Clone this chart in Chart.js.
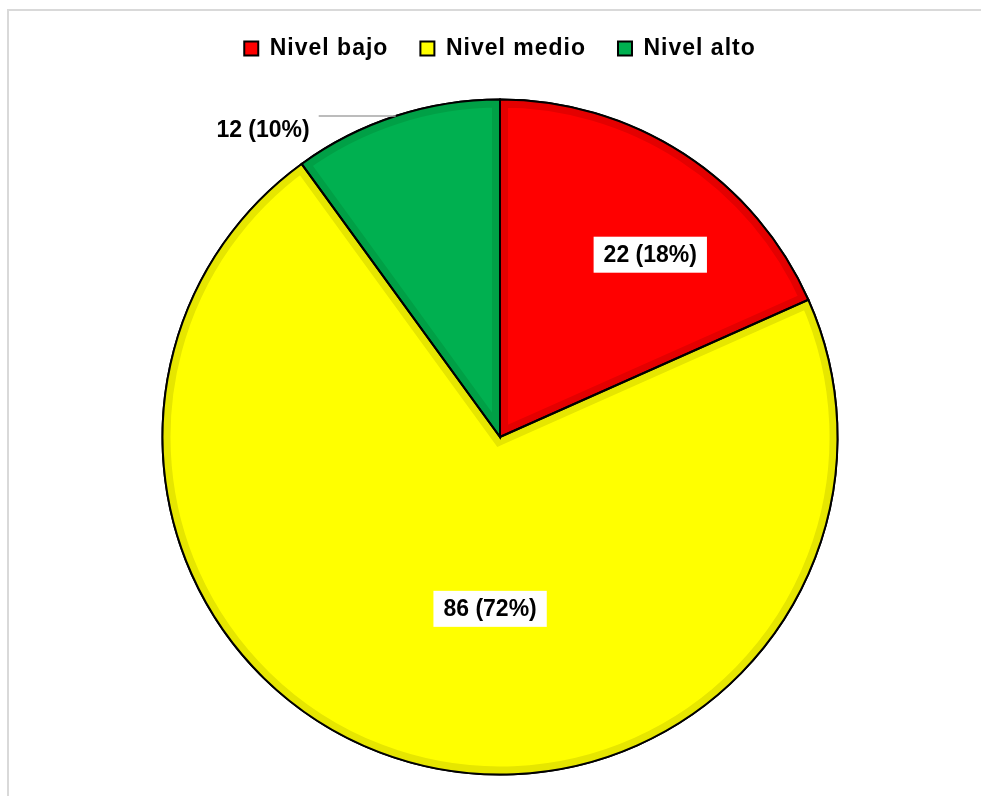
<!DOCTYPE html>
<html>
<head>
<meta charset="utf-8">
<script src="https://cdn.jsdelivr.net/npm/chart.js@4.4.1/dist/chart.umd.min.js"></script>
<style>
  html, body { margin: 0; padding: 0; background: #fff; }
  #wrap { position: relative; width: 981px; height: 796px; }
  #frame { position: absolute; left: 7px; top: 9px; right: 0; bottom: 0;
           border-top: 2px solid #d9d9d9; border-left: 2px solid #d9d9d9; }
  canvas { position: absolute; left: 0; top: 0; }
</style>
</head>
<body>
<div id="wrap"><div id="frame"></div><canvas id="c" width="981" height="796"></canvas></div>
<script>
const categories = ["Nivel bajo", "Nivel medio", "Nivel alto"];
const counts = [22, 86, 12];
const percents = [18, 72, 10];

const fillColors = ["#ff0000", "#ffff00", "#00b050"];
const bevelColors = ["#e40000", "#e6e600", "#00a046"];

// label placement (style only): radial fraction and angle shift in degrees
const labelPlacement = [
  { r: 0.70, da: 6.5, box: true },
  { r: 0.51, da: -11.7, box: true },
  { r: 1.0, da: 0, box: false, leader: 77 }
];

const PLOT_TOP = 98.5;
const PAD_TOP = 5;

const spacingPlugin = {
  id: 'legendSpacing',
  beforeLayout(chart) { chart.ctx.letterSpacing = '1px'; },
  beforeDraw(chart) { chart.ctx.letterSpacing = '1px'; }
};

const spacerPlugin = {
  id: 'spacer',
  beforeInit(chart) {
    const box = {
      position: 'top', weight: 0, fullSize: true, options: {},
      left: 0, top: 0, right: 0, bottom: 0, width: 0, height: 0,
      isHorizontal() { return true; },
      update(maxWidth) {
        const lh = chart.legend ? chart.legend.height : 0;
        this.width = maxWidth;
        this.height = Math.max(0, PLOT_TOP - PAD_TOP - lh);
        return this.height;
      },
      draw() {},
      _layers() { return [{ z: 0, draw() {} }]; }
    };
    Chart.layouts.addBox(chart, box);
  }
};

const bevelPlugin = {
  id: 'bevel',
  afterDatasetDraw(chart) {
    const ctx = chart.ctx;
    const meta = chart.getDatasetMeta(0);
    meta.data.forEach((arc, i) => {
      const p = arc.getProps(['x', 'y', 'startAngle', 'endAngle', 'outerRadius']);
      ctx.save();
      ctx.beginPath();
      ctx.moveTo(p.x, p.y);
      ctx.arc(p.x, p.y, p.outerRadius, p.startAngle, p.endAngle);
      ctx.closePath();
      ctx.clip();
      ctx.lineJoin = 'miter';
      ctx.strokeStyle = bevelColors[i];
      ctx.lineWidth = 16;
      ctx.stroke();
      ctx.restore();
    });
    meta.data.forEach((arc, i) => {
      const p = arc.getProps(['x', 'y', 'startAngle', 'endAngle', 'outerRadius']);
      ctx.save();
      ctx.beginPath();
      ctx.moveTo(p.x, p.y);
      ctx.arc(p.x, p.y, p.outerRadius, p.startAngle, p.endAngle);
      ctx.closePath();
      ctx.lineJoin = 'miter';
      ctx.strokeStyle = '#000';
      ctx.lineWidth = 2;
      ctx.stroke();
      ctx.restore();
    });
  }
};

const labelPlugin = {
  id: 'pieLabels',
  afterDraw(chart) {
    const ctx = chart.ctx;
    const meta = chart.getDatasetMeta(0);
    ctx.save();
    ctx.letterSpacing = '0px';
    ctx.font = 'bold 23px "Liberation Sans", Arial, sans-serif';
    ctx.textBaseline = 'middle';
    meta.data.forEach((arc, i) => {
      const p = arc.getProps(['x', 'y', 'startAngle', 'endAngle', 'outerRadius']);
      const pl = labelPlacement[i];
      const mid = (p.startAngle + p.endAngle) / 2 + pl.da * Math.PI / 180;
      const text = counts[i] + ' (' + percents[i] + '%)';
      const lx = p.x + Math.cos(mid) * p.outerRadius * pl.r;
      const ly = p.y + Math.sin(mid) * p.outerRadius * pl.r;
      if (pl.box) {
        const w = ctx.measureText(text).width;
        ctx.fillStyle = '#fff';
        ctx.fillRect(lx - w / 2 - 10, ly - 18, w + 20, 36);
        ctx.fillStyle = '#000';
        ctx.textAlign = 'center';
        ctx.fillText(text, lx, ly + 1);
      } else {
        const x2 = lx - pl.leader;
        ctx.strokeStyle = '#a6a6a6';
        ctx.lineWidth = 1.5;
        ctx.beginPath();
        ctx.moveTo(lx, ly);
        ctx.lineTo(x2, ly);
        ctx.stroke();
        ctx.fillStyle = '#000';
        ctx.textAlign = 'right';
        ctx.fillText(text, x2 - 9, ly + 15);
      }
    });
    ctx.restore();
  }
};

new Chart(document.getElementById('c'), {
  type: 'pie',
  data: {
    labels: categories,
    datasets: [{
      data: counts,
      backgroundColor: fillColors,
      borderColor: '#000',
      borderWidth: 2
    }]
  },
  options: {
    responsive: false,
    animation: false,
    layout: { padding: { top: PAD_TOP, bottom: 20.5, left: 19, right: 0 } },
    plugins: {
      tooltip: { enabled: false },
      legend: {
        position: 'top',
        labels: {
          boxWidth: 14,
          boxHeight: 14,
          padding: 32,
          color: '#000',
          font: { family: '"Liberation Sans", Arial, sans-serif', size: 23, weight: 'bold' },
          generateLabels(chart) {
            const ds = chart.data.datasets[0];
            return chart.data.labels.map((l, i) => ({
              text: l,
              fillStyle: ds.backgroundColor[i],
              strokeStyle: '#000',
              lineWidth: 2,
              hidden: false,
              index: i
            }));
          }
        }
      }
    }
  },
  plugins: [spacingPlugin, spacerPlugin, bevelPlugin, labelPlugin]
});
</script>
</body>
</html>
